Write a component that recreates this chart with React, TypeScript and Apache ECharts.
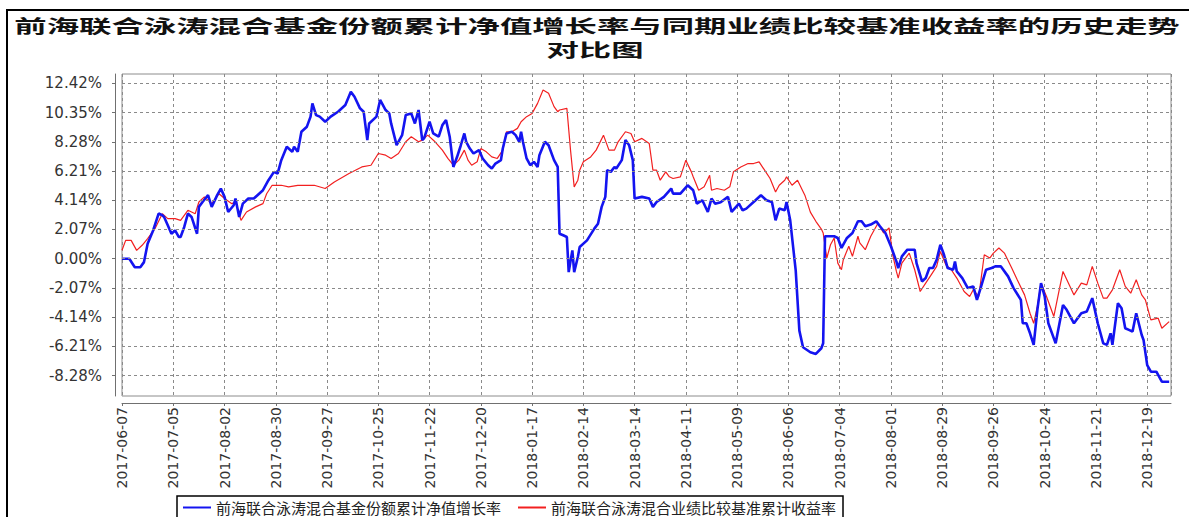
import React, { useEffect, useRef } from "react";
import * as echarts from "echarts";

const TITLE_LINE1 = "前海联合泳涛混合基金份额累计净值增长率与同期业绩比较基准收益率的历史走势";
const TITLE_LINE2 = "对比图";
const FUND_NAME = "前海联合泳涛混合基金份额累计净值增长率";
const BENCH_NAME = "前海联合泳涛混合业绩比较基准累计收益率";

const START_DATE = "2017-06-07";
const END_DATE = "2019-01-01";
const TICK_STEP_DAYS = 28;
const yTicks = [-8.28, -6.21, -4.14, -2.07, 0, 2.07, 4.14, 6.21, 8.28, 10.35, 12.42];

const fundDates = [
  "2017-06-07", "2017-06-11", "2017-06-14", "2017-06-17", "2017-06-19", "2017-06-21", "2017-06-24", "2017-06-27", "2017-06-29", "2017-06-30",
  "2017-07-02", "2017-07-04", "2017-07-06", "2017-07-08", "2017-07-09", "2017-07-11", "2017-07-13", "2017-07-15", "2017-07-18", "2017-07-19",
  "2017-07-21", "2017-07-24", "2017-07-26", "2017-07-29", "2017-07-31", "2017-08-02", "2017-08-04", "2017-08-07", "2017-08-08", "2017-08-10",
  "2017-08-12", "2017-08-15", "2017-08-18", "2017-08-20", "2017-08-23", "2017-08-26", "2017-08-29", "2017-08-31", "2017-09-02", "2017-09-05",
  "2017-09-08", "2017-09-09", "2017-09-11", "2017-09-13", "2017-09-16", "2017-09-18", "2017-09-19", "2017-09-21", "2017-09-23", "2017-09-26",
  "2017-09-29", "2017-10-03", "2017-10-07", "2017-10-10", "2017-10-12", "2017-10-15", "2017-10-17", "2017-10-19", "2017-10-20", "2017-10-24",
  "2017-10-26", "2017-10-29", "2017-10-31", "2017-11-01", "2017-11-04", "2017-11-07", "2017-11-09", "2017-11-12", "2017-11-14", "2017-11-16",
  "2017-11-18", "2017-11-19", "2017-11-22", "2017-11-24", "2017-11-27", "2017-11-29", "2017-12-01", "2017-12-03", "2017-12-05", "2017-12-07",
  "2017-12-09", "2017-12-11", "2017-12-12", "2017-12-14", "2017-12-16", "2017-12-19", "2017-12-21", "2017-12-24", "2017-12-26", "2017-12-28",
  "2017-12-31", "2018-01-01", "2018-01-03", "2018-01-06", "2018-01-08", "2018-01-10", "2018-01-11", "2018-01-12", "2018-01-14", "2018-01-16",
  "2018-01-18", "2018-01-20", "2018-01-21", "2018-01-24", "2018-01-26", "2018-01-29", "2018-01-31", "2018-02-01", "2018-02-03", "2018-02-05",
  "2018-02-06", "2018-02-08", "2018-02-09", "2018-02-11", "2018-02-12", "2018-02-16", "2018-02-20", "2018-02-22", "2018-02-24", "2018-02-26",
  "2018-02-27", "2018-03-01", "2018-03-03", "2018-03-04", "2018-03-07", "2018-03-09", "2018-03-11", "2018-03-13", "2018-03-14", "2018-03-18",
  "2018-03-22", "2018-03-24", "2018-03-26", "2018-03-30", "2018-04-03", "2018-04-04", "2018-04-08", "2018-04-12", "2018-04-15", "2018-04-17",
  "2018-04-20", "2018-04-23", "2018-04-25", "2018-04-27", "2018-04-30", "2018-05-04", "2018-05-06", "2018-05-10", "2018-05-12", "2018-05-14",
  "2018-05-18", "2018-05-22", "2018-05-25", "2018-05-28", "2018-05-30", "2018-06-01", "2018-06-04", "2018-06-05", "2018-06-07", "2018-06-10",
  "2018-06-12", "2018-06-14", "2018-06-18", "2018-06-21", "2018-06-24", "2018-06-25", "2018-06-26", "2018-06-28", "2018-07-01", "2018-07-03",
  "2018-07-05", "2018-07-08", "2018-07-11", "2018-07-14", "2018-07-16", "2018-07-18", "2018-07-21", "2018-07-24", "2018-07-26", "2018-07-29",
  "2018-08-01", "2018-08-04", "2018-08-05", "2018-08-07", "2018-08-10", "2018-08-14", "2018-08-15", "2018-08-18", "2018-08-20", "2018-08-22",
  "2018-08-24", "2018-08-26", "2018-08-28", "2018-08-30", "2018-09-01", "2018-09-04", "2018-09-05", "2018-09-06", "2018-09-09", "2018-09-12",
  "2018-09-15", "2018-09-17", "2018-09-19", "2018-09-22", "2018-09-25", "2018-09-27", "2018-09-30", "2018-10-04", "2018-10-07", "2018-10-11",
  "2018-10-12", "2018-10-14", "2018-10-16", "2018-10-18", "2018-10-20", "2018-10-22", "2018-10-24", "2018-10-26", "2018-10-30", "2018-11-03",
  "2018-11-05", "2018-11-09", "2018-11-13", "2018-11-16", "2018-11-19", "2018-11-22", "2018-11-25", "2018-11-27", "2018-11-29", "2018-11-30",
  "2018-12-03", "2018-12-05", "2018-12-07", "2018-12-09", "2018-12-11", "2018-12-13", "2018-12-16", "2018-12-17", "2018-12-19", "2018-12-21",
  "2018-12-24", "2018-12-27", "2018-12-31",
];
const fundValues = [
  0.0, 0.0, -0.6, -0.6, -0.24, 1.06, 2.0, 3.2, 3.08, 2.96,
  2.37, 1.77, 2.0, 1.54, 1.54, 2.25, 3.2, 2.96, 1.77, 3.67,
  4.02, 4.5, 3.67, 4.5, 4.97, 4.38, 3.31, 3.79, 4.26, 2.96,
  3.9, 4.26, 4.26, 4.5, 4.85, 5.56, 6.15, 6.03, 6.98, 7.93,
  7.57, 7.93, 7.57, 8.99, 9.35, 10.06, 11.0, 10.17, 10.06, 9.7,
  10.06, 10.41, 10.88, 11.83, 11.47, 10.65, 10.41, 8.4, 9.58, 10.06,
  11.24, 10.53, 10.29, 9.58, 8.04, 8.75, 10.17, 10.29, 9.58, 10.53,
  8.4, 8.52, 9.7, 8.87, 8.64, 9.46, 9.82, 8.64, 6.5, 7.2,
  8.0, 8.87, 8.28, 7.8, 7.45, 7.69, 7.1, 6.62, 6.39, 6.74,
  6.98, 7.8, 8.87, 8.99, 8.75, 8.28, 8.99, 8.28, 7.1, 6.62,
  6.86, 6.5, 7.33, 8.28, 8.04, 6.98, 6.5, 1.77, 1.66, 1.54,
  -0.95, 0.59, -0.95, 0.12, 0.83, 1.3, 2.13, 2.48, 3.67, 4.38,
  6.27, 6.15, 6.5, 6.39, 6.98, 8.4, 8.04, 6.98, 4.26, 4.38,
  4.26, 3.67, 4.02, 4.38, 4.97, 4.61, 4.61, 5.2, 4.85, 3.9,
  4.14, 3.31, 4.26, 3.9, 4.0, 4.38, 3.31, 3.9, 3.43, 3.55,
  4.02, 4.5, 4.14, 4.02, 2.72, 3.55, 3.43, 4.02, 2.72, -0.83,
  -5.09, -6.27, -6.62, -6.74, -6.34, -5.99, 1.59, 1.59, 1.59, 1.47,
  0.76, 1.47, 1.82, 2.65, 2.65, 2.3, 2.42, 2.65, 2.3, 1.82,
  0.88, -0.19, -0.66, 0.17, 0.64, 0.64, -0.31, -1.61, -1.37, -0.66,
  -0.66, -0.07, 0.99, 0.28, -0.66, -0.78, -0.19, -0.9, -1.37, -2.08,
  -1.96, -2.91, -2.08, -0.78, -0.66, -0.54, -0.54, -1.25, -2.08, -2.91,
  -4.57, -4.57, -5.28, -6.1, -3.62, -1.73, -2.67, -4.57, -5.99, -3.27,
  -3.62, -4.57, -3.86, -3.74, -2.79, -4.57, -5.99, -6.1, -5.28, -6.1,
  -3.15, -3.5, -4.92, -5.04, -5.16, -3.86, -5.4, -5.75, -7.53, -8.0,
  -8.0, -8.71, -8.71,
];

const benchDates = [
  "2017-06-07", "2017-06-09", "2017-06-12", "2017-06-15", "2017-06-18", "2017-06-21", "2017-06-25", "2017-06-29", "2017-07-02", "2017-07-06",
  "2017-07-09", "2017-07-13", "2017-07-17", "2017-07-19", "2017-07-22", "2017-07-26", "2017-07-30", "2017-08-02", "2017-08-06", "2017-08-08",
  "2017-08-11", "2017-08-14", "2017-08-19", "2017-08-23", "2017-08-25", "2017-08-28", "2017-09-02", "2017-09-06", "2017-09-11", "2017-09-20",
  "2017-09-26", "2017-10-01", "2017-10-09", "2017-10-16", "2017-10-21", "2017-10-25", "2017-10-29", "2017-11-01", "2017-11-05", "2017-11-09",
  "2017-11-12", "2017-11-16", "2017-11-18", "2017-11-21", "2017-11-25", "2017-11-29", "2017-12-02", "2017-12-05", "2017-12-08", "2017-12-11",
  "2017-12-13", "2017-12-15", "2017-12-18", "2017-12-20", "2017-12-23", "2017-12-26", "2017-12-29", "2018-01-01", "2018-01-03", "2018-01-06",
  "2018-01-09", "2018-01-11", "2018-01-14", "2018-01-17", "2018-01-20", "2018-01-23", "2018-01-26", "2018-01-29", "2018-01-31", "2018-02-01",
  "2018-02-05", "2018-02-07", "2018-02-09", "2018-02-11", "2018-02-12", "2018-02-14", "2018-02-18", "2018-02-21", "2018-02-25", "2018-02-28",
  "2018-03-03", "2018-03-05", "2018-03-09", "2018-03-12", "2018-03-14", "2018-03-18", "2018-03-22", "2018-03-24", "2018-03-26", "2018-03-28",
  "2018-03-31", "2018-04-02", "2018-04-04", "2018-04-08", "2018-04-11", "2018-04-14", "2018-04-15", "2018-04-18", "2018-04-21", "2018-04-24",
  "2018-04-25", "2018-04-28", "2018-05-02", "2018-05-05", "2018-05-07", "2018-05-11", "2018-05-15", "2018-05-18", "2018-05-21", "2018-05-24",
  "2018-05-27", "2018-05-30", "2018-06-01", "2018-06-04", "2018-06-05", "2018-06-08", "2018-06-11", "2018-06-15", "2018-06-18", "2018-06-21",
  "2018-06-24", "2018-06-25", "2018-06-27", "2018-06-29", "2018-07-01", "2018-07-03", "2018-07-05", "2018-07-06", "2018-07-09", "2018-07-11",
  "2018-07-14", "2018-07-15", "2018-07-18", "2018-07-21", "2018-07-25", "2018-07-28", "2018-07-31", "2018-08-02", "2018-08-04", "2018-08-05",
  "2018-08-07", "2018-08-11", "2018-08-14", "2018-08-17", "2018-08-20", "2018-08-23", "2018-08-26", "2018-08-28", "2018-08-31", "2018-09-03",
  "2018-09-06", "2018-09-10", "2018-09-13", "2018-09-15", "2018-09-18", "2018-09-21", "2018-09-24", "2018-09-26", "2018-09-29", "2018-10-02",
  "2018-10-06", "2018-10-09", "2018-10-13", "2018-10-16", "2018-10-18", "2018-10-20", "2018-10-22", "2018-10-25", "2018-10-29", "2018-11-03",
  "2018-11-06", "2018-11-09", "2018-11-13", "2018-11-16", "2018-11-19", "2018-11-22", "2018-11-25", "2018-11-27", "2018-11-30", "2018-12-04",
  "2018-12-07", "2018-12-10", "2018-12-13", "2018-12-16", "2018-12-18", "2018-12-21", "2018-12-25", "2018-12-27", "2018-12-31",
];
const benchValues = [
  0.6, 1.3, 1.3, 0.59, 0.95, 1.42, 2.13, 3.19, 2.84, 2.84,
  2.72, 3.43, 3.19, 4.02, 4.38, 3.9, 4.6, 4.26, 3.9, 4.02,
  2.72, 3.31, 3.67, 3.9, 4.6, 5.2, 5.2, 5.09, 5.2, 5.2,
  4.97, 5.44, 6.03, 6.5, 6.62, 7.45, 7.33, 7.1, 7.45, 8.28,
  8.64, 8.28, 8.4, 8.75, 8.28, 7.69, 7.1, 6.62, 6.98, 7.69,
  6.98, 6.62, 6.86, 7.8, 7.57, 7.21, 7.1, 7.69, 8.99, 8.99,
  9.23, 9.7, 10.06, 10.29, 11.0, 11.95, 11.71, 10.77, 10.41, 10.53,
  10.65, 7.69, 5.09, 5.56, 6.27, 6.86, 7.21, 7.69, 8.75, 7.69,
  7.69, 8.28, 8.99, 8.87, 8.28, 8.52, 8.16, 6.27, 6.27, 5.56,
  6.15, 5.8, 5.68, 5.8, 6.98, 6.15, 5.8, 4.85, 5.09, 5.91,
  4.85, 4.97, 4.85, 5.09, 6.15, 6.5, 6.74, 6.74, 6.86, 6.27,
  5.68, 4.73, 5.2, 5.56, 5.8, 5.2, 5.56, 4.5, 3.3, 2.65,
  2.1, 1.82, 0.05, 0.99, 1.47, -0.31, -0.78, -0.07, 0.88, 0.17,
  1.59, 1.12, 0.64, 1.59, 2.53, 1.82, 2.18, 0.28, -0.9, -1.37,
  -0.31, 0.4, -0.78, -2.32, -1.73, -1.14, -0.54, 0.52, -0.43, -0.78,
  -1.37, -2.32, -2.67, -2.2, -2.67, 0.28, 0.05, 0.4, 0.76, 0.4,
  -0.66, -1.49, -2.56, -3.86, -4.57, -3.38, -1.73, -2.67, -4.09, -0.9,
  -1.73, -2.56, -1.73, -1.85, -0.54, -1.73, -2.79, -2.79, -2.2, -0.78,
  -1.96, -2.44, -1.49, -2.56, -2.91, -4.33, -4.21, -4.92, -4.45,
];

const DAY_MS = 86400000;
const START_MS = Date.parse(START_DATE);
const dayIndex = (d: string) => Math.round((Date.parse(d) - START_MS) / DAY_MS);
const pad = (n: number) => (n < 10 ? "0" + n : "" + n);
const dayToLabel = (v: number) => {
  const d = new Date(START_MS + Math.round(v) * DAY_MS);
  return d.getUTCFullYear() + "-" + pad(d.getUTCMonth() + 1) + "-" + pad(d.getUTCDate());
};

export default function App() {
  const ref = useRef<HTMLDivElement>(null);
  useEffect(() => {
    if (!ref.current) return;
    const chart = echarts.init(ref.current, undefined, { renderer: "svg" });
    const labelFont = "DejaVu Sans";
    const cjk = "Noto Sans CJK SC";
    const gridLineStyle = { color: "#8a8a8a", type: [3, 3], width: 1 };
    const titleStyle = {
      fontSize: 18,
      fontWeight: "bold",
      fontFamily: cjk,
      fill: "#111111",
      textAlign: "center",
      textVerticalAlign: "middle",
      align: "center",
      verticalAlign: "middle",
    };
    chart.setOption({
      animation: false,
      backgroundColor: "#ffffff",
      graphic: [
        {
          type: "rect",
          silent: true,
          shape: { x: 7, y: 10, width: 1200, height: 600 },
          style: { fill: "none", stroke: "#000000", lineWidth: 2 },
        },
        { type: "text", x: 597, y: 25, scaleX: 1.8, style: { ...titleStyle, text: TITLE_LINE1 } },
        { type: "text", x: 595, y: 49, scaleX: 1.8, style: { ...titleStyle, text: TITLE_LINE2 } },
      ],
      legend: {
        data: [FUND_NAME, BENCH_NAME],
        left: 177,
        top: 496,
        orient: "horizontal",
        itemWidth: 28,
        itemHeight: 4,
        itemGap: 16,
        padding: [4, 7, 6, 5],
        borderColor: "#000000",
        borderWidth: 1.5,
        backgroundColor: "#ffffff",
        itemStyle: { opacity: 0 },
        textStyle: { fontSize: 15, fontFamily: cjk, color: "#222222", width: 376 },
      },
      grid: {
        left: 122,
        top: 74,
        right: 18,
        bottom: 121,
        show: true,
        borderColor: "#8c8c8c",
        borderWidth: 1,
      },
      xAxis: {
        type: "value",
        min: 0,
        max: dayIndex(END_DATE),
        interval: TICK_STEP_DAYS,
        offset: 7,
        axisLine: { show: true, onZero: false, lineStyle: { color: "#707070", width: 1 } },
        axisTick: { show: true, length: 3, lineStyle: { color: "#707070" } },
        axisLabel: {
          rotate: 90,
          margin: 4,
          fontSize: 14,
          fontFamily: labelFont,
          color: "#333333",
          showMaxLabel: false,
          formatter: (v: number) => (Math.round(v) % TICK_STEP_DAYS === 0 ? dayToLabel(v) : ""),
        },
        splitLine: { show: true, lineStyle: gridLineStyle },
      },
      yAxis: {
        type: "value",
        min: -9.72,
        max: 13.08,
        offset: 7,
        axisLine: { show: true, onZero: false, lineStyle: { color: "#707070", width: 1 } },
        axisTick: { show: true, length: 3, customValues: yTicks, lineStyle: { color: "#707070" } },
        axisLabel: {
          customValues: yTicks,
          margin: 13,
          fontSize: 15,
          fontFamily: labelFont,
          color: "#333333",
          formatter: (v: number) => v.toFixed(2) + "%",
        },
        splitLine: { show: false },
      },
      series: [
        {
          name: "gridlines",
          type: "line",
          data: [],
          silent: true,
          z: 1,
          markLine: {
            silent: true,
            symbol: ["none", "none"],
            label: { show: false },
            lineStyle: gridLineStyle,
            animation: false,
            data: yTicks.map((v) => ({ yAxis: v })),
          },
        },
        {
          name: BENCH_NAME,
          type: "line",
          symbol: "none",
          z: 2,
          data: benchDates.map((d, i) => [dayIndex(d), benchValues[i]]),
          lineStyle: { color: "#f22020", width: 1.2 },
          itemStyle: { color: "#f22020" },
        },
        {
          name: FUND_NAME,
          type: "line",
          symbol: "none",
          z: 3,
          data: fundDates.map((d, i) => [dayIndex(d), fundValues[i]]),
          lineStyle: { color: "#1414f0", width: 2.6 },
          itemStyle: { color: "#1414f0" },
        },
      ],
    });
    return () => chart.dispose();
  }, []);
  return (
    <div
      ref={ref}
      style={{ position: "fixed", left: 0, top: 0, width: 1189, height: 517, background: "#fff" }}
    />
  );
}
